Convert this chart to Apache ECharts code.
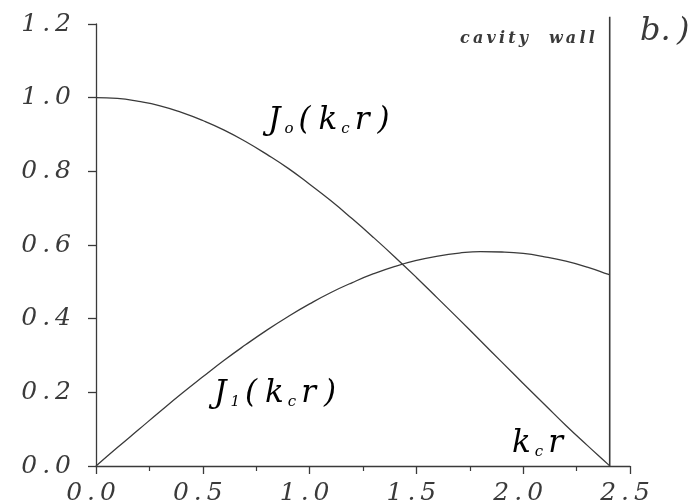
<!DOCTYPE html>
<html>
<head>
<meta charset="utf-8">
<script src="https://cdn.jsdelivr.net/npm/echarts@6/dist/echarts.min.js"></script>
<style>
  html, body { margin: 0; padding: 0; background: #fff; }
  #chart { width: 695px; height: 504px; }
</style>
</head>
<body>
<div id="chart"></div>
<script>
// k_c r values
var kr = [0, 0.1, 0.2, 0.3, 0.4, 0.5, 0.6, 0.7, 0.8, 0.9, 1.0, 1.1, 1.2, 1.3, 1.4, 1.5,
  1.6, 1.7, 1.8, 1.9, 2.0, 2.1, 2.2, 2.3, 2.4, 2.405]
var j0 = [1.0, 0.998, 0.990, 0.978, 0.960, 0.938, 0.912, 0.881, 0.846, 0.808, 0.765, 0.720,
  0.671, 0.620, 0.567, 0.512, 0.455, 0.398, 0.340, 0.282, 0.224, 0.167, 0.110, 0.056, 0.003, 0.0]
var j1 = [0, 0.050, 0.099, 0.148, 0.196, 0.242, 0.287, 0.329, 0.369, 0.406, 0.440, 0.471,
  0.498, 0.522, 0.542, 0.558, 0.570, 0.578, 0.582, 0.581, 0.577, 0.568, 0.556, 0.540, 0.520, 0.519]
// the cavity wall sits at the first zero of J0
var wallX = [2.405, 2.405]
var wallY = [0, 1.22]

var ink = '#3a3a3a'
var serif = '"DejaVu Serif", "Liberation Serif", serif'

function pairs(xs, ys) {
  return xs.map(function (x, i) { return [x, ys[i]] })
}
// old plotter fonts are widely spaced
function spread(s) {
  return s.split('').join('\u2009')
}

var chart = echarts.init(document.getElementById('chart'))

var rich = {
  m: { fontFamily: serif, fontStyle: 'italic', fontSize: 31, color: ink, padding: [0, 4, 0, 4] },
  s: { fontFamily: serif, fontStyle: 'italic', fontSize: 15, color: ink, padding: [17, 1, 0, 0] }
}
// one token per glyph so each gets its own spacing
var j0Label = '{m|J}{s|o}{m|(}{m|k}{s|c}{m|r}{m|)}'
var j1Label = '{m|J}{s|1}{m|(}{m|k}{s|c}{m|r}{m|)}'
var krLabel = '{m|k}{s|c}{m|r}'

chart.setOption({
  backgroundColor: '#fff',
  animation: false,
  grid: { left: 96, right: 65, top: 24, bottom: 38, outerBoundsMode: 'none' },
  xAxis: {
    type: 'value',
    min: 0,
    max: 2.5,
    interval: 0.5,
    axisLine: { lineStyle: { color: ink, width: 1.3 } },
    axisTick: { length: 8, lineStyle: { color: ink, width: 1.3 } },
    minorTick: { show: true, splitNumber: 2, length: 5, lineStyle: { color: ink, width: 1.2 } },
    splitLine: { show: false },
    axisLabel: {
      margin: 15,
      padding: [0, 10, 0, 0],
      fontFamily: serif, fontStyle: 'italic', fontSize: 25, color: ink,
      formatter: function (v) { return spread(v.toFixed(1)) }
    }
  },
  yAxis: {
    type: 'value',
    min: 0,
    max: 1.2,
    interval: 0.2,
    axisLine: { show: true, lineStyle: { color: ink, width: 1.3 } },
    axisTick: { show: true, length: 8, lineStyle: { color: ink, width: 1.3 } },
    splitLine: { show: false },
    axisLabel: {
      margin: 25,
      fontFamily: serif, fontStyle: 'italic', fontSize: 25, color: ink,
      formatter: function (v) { return spread(v.toFixed(1)) }
    }
  },
  series: [{
    name: 'J0',
    type: 'line',
    showSymbol: false,
    smooth: true,
    lineStyle: { color: ink, width: 1.3 },
    data: pairs(kr, j0)
  }, {
    name: 'J1',
    type: 'line',
    showSymbol: false,
    smooth: true,
    lineStyle: { color: ink, width: 1.3 },
    data: pairs(kr, j1)
  }, {
    name: 'wall',
    type: 'line',
    showSymbol: false,
    clip: false,
    lineStyle: { color: ink, width: 1.6 },
    data: pairs(wallX, wallY)
  }],
  graphic: [{
    type: 'text', left: 268, top: 105,
    style: { text: j0Label, rich: rich }
  }, {
    type: 'text', left: 214, top: 378,
    style: { text: j1Label, rich: rich }
  }, {
    type: 'text', left: 512, top: 428,
    style: { text: krLabel, rich: rich }
  }, {
    type: 'text', left: 460, top: 31,
    style: { text: spread('cavity  wall'), fontFamily: serif, fontStyle: 'italic', fontWeight: 'bold', fontSize: 16, fill: ink }
  }, {
    type: 'text', left: 640, top: 16,
    style: { text: 'b.\u2009)', fontFamily: serif, fontStyle: 'italic', fontSize: 32, fill: ink }
  }]
})
</script>
</body>
</html>
